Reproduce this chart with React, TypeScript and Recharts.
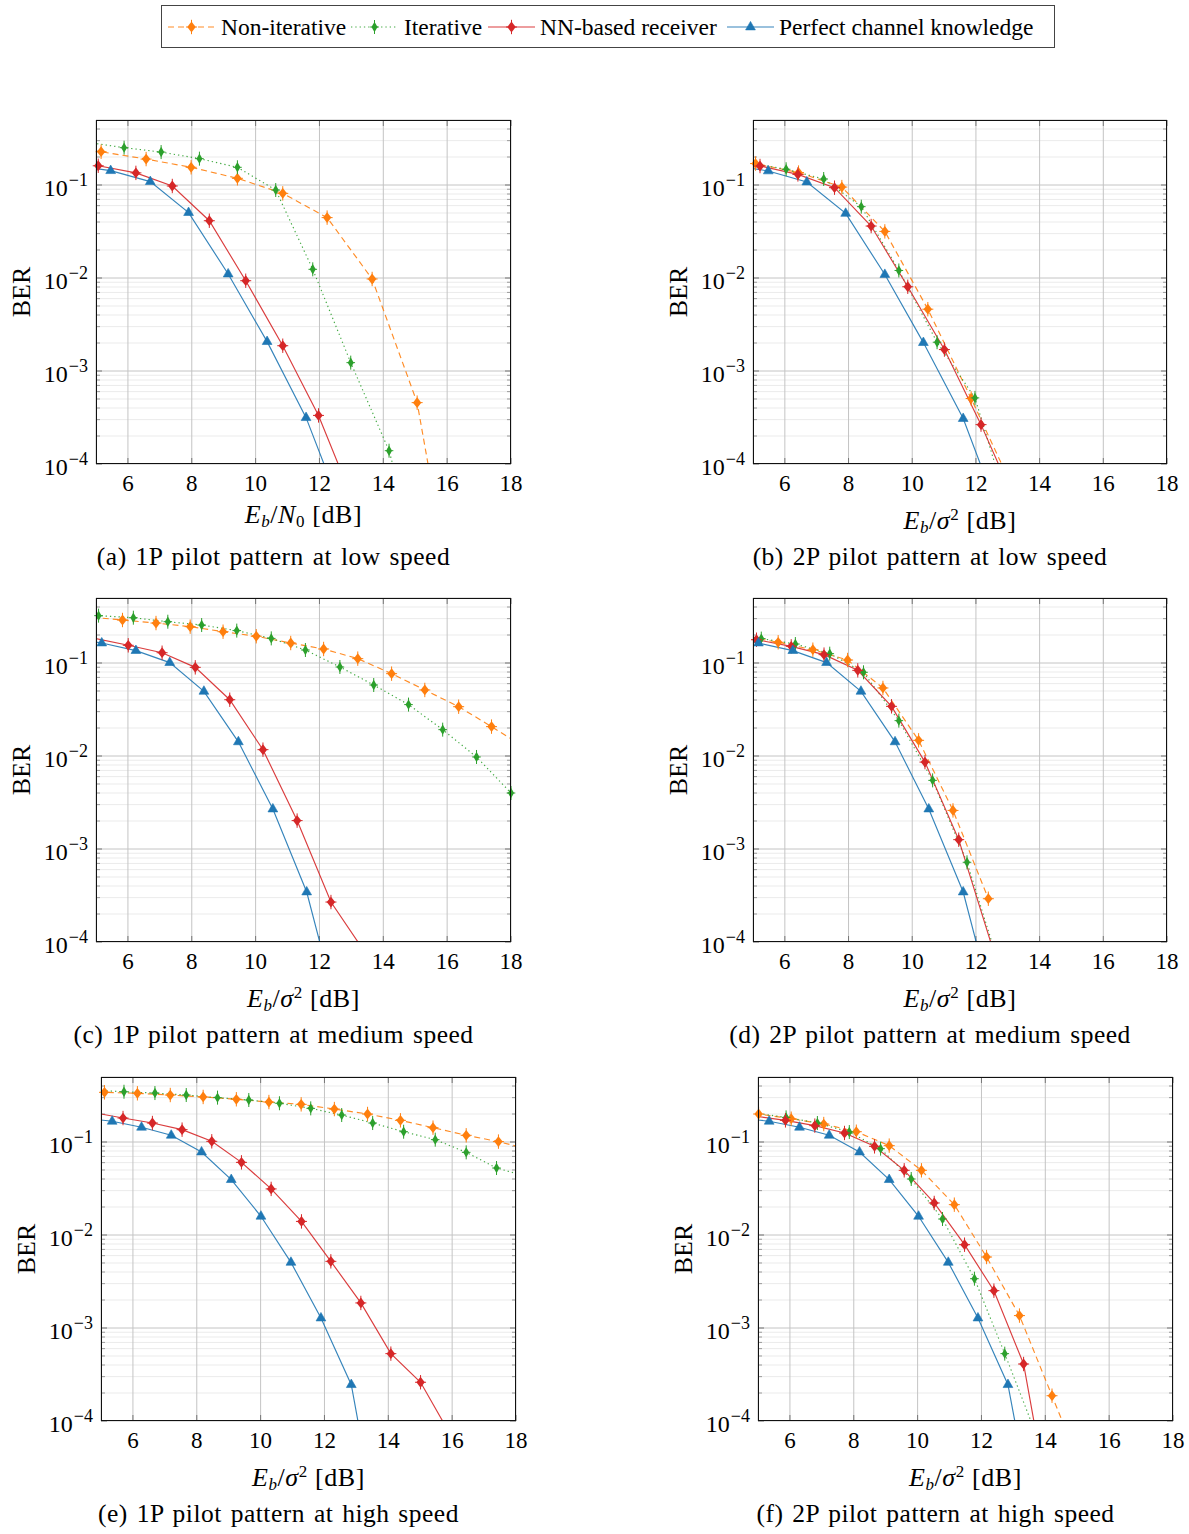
import React from "react";
import { CartesianGrid, Line, LineChart, ReferenceLine, XAxis, YAxis } from "recharts";

const SERIF = "'Liberation Serif', 'Times New Roman', 'DejaVu Serif', serif";
const ORANGE = "#ff7f0e";
const GREEN = "#2ca02c";
const RED = "#d62728";
const BLUE = "#1f77b4";

type Pt = [number, number];

// tick values
const X_TICKS = [6, 8, 10, 12, 14, 16, 18];
const Y_MAJOR = [1e-4, 1e-3, 1e-2, 1e-1];
const MINOR_MULT = [2, 3, 4, 5, 6, 7, 8, 9];
const Y_MINOR = [1e-4, 1e-3, 1e-2]
  .flatMap((d) => MINOR_MULT.map((m) => m * d))
  .concat([0.2, 0.3, 0.4]);
const X_DOMAIN: [number, number] = [5, 18];
const Y_DOMAIN: [number, number] = [1e-4, 0.5];

// (a) 1P, low speed
const aNonIter: Pt[] = [[4.9, 0.235], [5.16, 0.228], [6.57, 0.19], [7.98, 0.155], [9.43, 0.118], [10.85, 0.0813], [12.24, 0.0446], [13.65, 0.00976], [15.06, 4.57e-4], [15.6, 4.1e-5]];
const aIter: Pt[] = [[4.9, 0.282], [5.88, 0.252], [7.04, 0.226], [8.24, 0.192], [9.43, 0.155], [10.63, 0.0883], [11.79, 0.0124], [12.98, 1.23e-3], [14.18, 1.39e-4], [14.5, 5.4e-5]];
const aNN: Pt[] = [[4.9, 0.166], [5.07, 0.161], [6.25, 0.135], [7.39, 0.0976], [8.55, 0.0413], [9.69, 9.35e-3], [10.85, 1.87e-3], [11.97, 3.33e-4], [12.8, 6.6e-5]];
const aPerfect: Pt[] = [[4.9, 0.152], [5.46, 0.1426], [6.7, 0.1087], [7.9, 0.0505], [9.14, 0.01104], [10.36, 2.07e-3], [11.58, 3.15e-4], [12.4, 5.9e-5]];

// (b) 2P, low speed
const bNonIter: Pt[] = [[4.9, 0.175], [5.08, 0.17], [6.43, 0.136], [7.79, 0.095], [9.14, 0.0317], [10.49, 4.62e-3], [11.85, 5.06e-4], [13.0, 7.2e-5]];
const bIter: Pt[] = [[4.9, 0.172], [6.04, 0.1476], [7.22, 0.116], [8.4, 0.0585], [9.58, 0.01205], [10.78, 2.04e-3], [11.97, 5.14e-4], [12.8, 5.9e-5]];
const bNN: Pt[] = [[4.9, 0.168], [5.22, 0.16], [6.41, 0.13], [7.56, 0.0936], [8.71, 0.0362], [9.86, 8.05e-3], [11.01, 1.7e-3], [12.16, 2.65e-4], [12.9, 7.1e-5]];
const bPerfect: Pt[] = [[4.9, 0.152], [5.48, 0.1416], [6.69, 0.1077], [7.91, 0.0495], [9.14, 0.0109], [10.35, 2.02e-3], [11.6, 3.08e-4], [12.4, 5.8e-5]];

// (c) 1P, medium speed
const cNonIter: Pt[] = [[4.9, 0.31], [5.83, 0.29], [6.88, 0.269], [7.95, 0.246], [8.98, 0.217], [10.02, 0.194], [11.1, 0.164], [12.13, 0.1415], [13.2, 0.1114], [14.26, 0.0768], [15.3, 0.0513], [16.36, 0.0339], [17.39, 0.0207], [18.3, 0.0132]];
const cIter: Pt[] = [[4.9, 0.33], [5.08, 0.323], [6.17, 0.307], [7.25, 0.278], [8.31, 0.256], [9.41, 0.223], [10.49, 0.184], [11.56, 0.138], [12.64, 0.0906], [13.7, 0.058], [14.79, 0.0357], [15.86, 0.0192], [16.92, 9.76e-3], [18.0, 4.0e-3]];
const cNN: Pt[] = [[4.9, 0.186], [6.01, 0.155], [7.07, 0.129], [8.11, 0.0898], [9.19, 0.0403], [10.23, 0.0117], [11.3, 2.02e-3], [12.36, 2.69e-4], [13.5, 7.1e-5]];
const cPerfect: Pt[] = [[4.9, 0.17], [5.18, 0.164], [6.25, 0.136], [7.31, 0.101], [8.38, 0.0496], [9.46, 0.0142], [10.54, 2.69e-3], [11.6, 3.45e-4], [12.2, 5.6e-5]];

// (d) 2P, medium speed
const dNonIter: Pt[] = [[4.9, 0.19], [5.79, 0.167], [6.88, 0.139], [7.97, 0.1077], [9.08, 0.0539], [10.2, 0.01474], [11.28, 2.6e-3], [12.39, 2.92e-4]];
const dIter: Pt[] = [[4.9, 0.19], [5.26, 0.183], [6.33, 0.16], [7.41, 0.126], [8.47, 0.0794], [9.58, 0.024], [10.64, 5.47e-3], [11.72, 7.2e-4], [12.7, 6.0e-5]];
const dNN: Pt[] = [[4.9, 0.182], [5.11, 0.178], [6.2, 0.151], [7.23, 0.123], [8.29, 0.0834], [9.35, 0.0342], [10.4, 8.6e-3], [11.46, 1.26e-3], [12.7, 5.5e-5]];
const dPerfect: Pt[] = [[4.9, 0.17], [5.17, 0.164], [6.25, 0.136], [7.31, 0.101], [8.39, 0.0496], [9.46, 0.0142], [10.52, 2.69e-3], [11.6, 3.45e-4], [12.2, 5.6e-5]];

// (e) 1P, high speed
const eNonIter: Pt[] = [[4.9, 0.345], [5.11, 0.342], [6.14, 0.334], [7.17, 0.32], [8.2, 0.305], [9.24, 0.288], [10.26, 0.269], [11.27, 0.254], [12.31, 0.226], [13.35, 0.2], [14.38, 0.171], [15.4, 0.1426], [16.44, 0.118], [17.45, 0.101], [18.3, 0.085]];
const eIter: Pt[] = [[4.9, 0.36], [5.72, 0.347], [6.69, 0.336], [7.67, 0.32], [8.65, 0.3], [9.63, 0.283], [10.59, 0.261], [11.57, 0.23], [12.54, 0.195], [13.51, 0.16], [14.48, 0.129], [15.47, 0.106], [16.44, 0.0774], [17.39, 0.0525], [18.3, 0.043]];
const eNN: Pt[] = [[4.9, 0.203], [5.69, 0.181], [6.61, 0.16], [7.54, 0.1358], [8.47, 0.1017], [9.4, 0.0604], [10.33, 0.0313], [11.28, 0.014], [12.2, 5.21e-3], [13.14, 1.86e-3], [14.08, 5.3e-4], [15.01, 2.61e-4], [16.0, 6.6e-5]];
const ePerfect: Pt[] = [[4.9, 0.174], [5.35, 0.167], [6.27, 0.144], [7.2, 0.118], [8.15, 0.078], [9.08, 0.0394], [10.01, 0.0159], [10.95, 5.08e-3], [11.89, 1.28e-3], [12.84, 2.46e-4], [13.2, 5.2e-5]];

// (f) 2P, high speed
const fNonIter: Pt[] = [[4.9, 0.203], [5.02, 0.2], [6.04, 0.178], [7.06, 0.156], [8.08, 0.129], [9.11, 0.0914], [10.12, 0.0496], [11.15, 0.0212], [12.16, 5.8e-3], [13.19, 1.36e-3], [14.21, 1.87e-4], [14.8, 5.9e-5]];
const fIter: Pt[] = [[4.9, 0.205], [5.88, 0.184], [6.86, 0.16], [7.86, 0.128], [8.84, 0.0848], [9.8, 0.04], [10.78, 0.01486], [11.78, 3.39e-3], [12.73, 5.3e-4], [13.8, 6.0e-5]];
const fNN: Pt[] = [[4.9, 0.19], [5.86, 0.171], [6.78, 0.15], [7.71, 0.125], [8.65, 0.0898], [9.58, 0.0496], [10.52, 0.0221], [11.47, 7.87e-3], [12.39, 2.52e-3], [13.32, 4.1e-4], [13.8, 5.0e-5]];
const fPerfect: Pt[] = [[4.9, 0.174], [5.35, 0.167], [6.3, 0.144], [7.23, 0.118], [8.18, 0.078], [9.11, 0.0394], [10.03, 0.0159], [10.96, 5.08e-3], [11.89, 1.28e-3], [12.83, 2.46e-4], [13.2, 5.2e-5]];

type Kind = "diamond" | "thin" | "tri";
const STYLES: { name: string; color: string; dash?: string; kind: Kind }[] = [
  { name: "Non-iterative", color: ORANGE, dash: "6 4", kind: "diamond" },
  { name: "Iterative", color: GREEN, dash: "1.3 3", kind: "thin" },
  { name: "NN-based receiver", color: RED, kind: "diamond" },
  { name: "Perfect channel knowledge", color: BLUE, kind: "tri" },
];

function Marker({ kind, color, x, y }: { kind: Kind; color: string; x: number; y: number }) {
  if (kind === "tri") {
    return (
      <polygon
        points={`${x},${y - 5.6} ${x + 4.9},${y + 2.9} ${x - 4.9},${y + 2.9}`}
        fill={color}
        stroke={color}
        strokeWidth={0.6}
      />
    );
  }
  const hw = kind === "thin" ? 3.0 : 4.2;
  const hh = kind === "thin" ? 5.2 : 5.4;
  return (
    <g>
      <line x1={x} y1={y - hh - 1.8} x2={x} y2={y + hh + 1.8} stroke={color} strokeWidth={1} />
      <line x1={x - hw - 1.3} y1={y} x2={x + hw + 1.3} y2={y} stroke={color} strokeWidth={1} />
      <polygon points={`${x},${y - hh} ${x + hw},${y} ${x},${y + hh} ${x - hw},${y}`} fill={color} />
    </g>
  );
}

const makeDot = (kind: Kind, color: string) => (p: any) => {
  const { cx, cy, index } = p;
  if (cx == null || cy == null) return <g key={`d-${index}`} />;
  return (
    <g key={`d-${index}`}>
      <Marker kind={kind} color={color} x={cx} y={cy} />
    </g>
  );
};

function XTick({ x, y, payload }: any) {
  return (
    <text x={x} y={y + 19} textAnchor="middle" style={{ fontFamily: SERIF, fontSize: 23 }} fill="#000">
      {payload.value}
    </text>
  );
}

function YTick({ x, y, payload }: any) {
  const e = Math.round(Math.log10(payload.value));
  return (
    <text x={x} y={y + 11} textAnchor="end" style={{ fontFamily: SERIF, fontSize: 24 }} fill="#000">
      10
      <tspan dx={1} dy={-10} style={{ fontSize: 18 }}>
        {"\u2212" + -e}
      </tspan>
    </text>
  );
}

const toRows = (pts: Pt[]) => pts.map(([x, y]) => ({ x, y }));
const inside = (pts: Pt[]) =>
  toRows(pts.filter(([x, y]) => x >= X_DOMAIN[0] && x <= X_DOMAIN[1] && y >= Y_DOMAIN[0] && y <= Y_DOMAIN[1]));

const ML = 96;
const MT = 20;
const MR = 20;
const XH = 40;
const MB = 10;

function Panel({
  box,
  series,
  noise,
  caption,
}: {
  box: [number, number, number, number];
  series: Pt[][];
  noise: "N0" | "sigma";
  caption: string;
}) {
  const [L, T, R, B] = box;
  const pw = R - L;
  const ph = B - T;
  const dMaj = (13 / pw) * 6;
  const dMin = (13 / pw) * 4;
  const decades = Math.log10(Y_DOMAIN[1] / Y_DOMAIN[0]);
  const fy = Math.pow(10, (6 * decades) / ph);

  const tickLines: React.ReactNode[] = [];
  Y_MAJOR.forEach((v) => {
    tickLines.push(<ReferenceLine key={`yl${v}`} segment={[{ x: 5, y: v }, { x: 5 + dMaj, y: v }]} stroke="#777" />);
    tickLines.push(<ReferenceLine key={`yr${v}`} segment={[{ x: 18 - dMaj, y: v }, { x: 18, y: v }]} stroke="#777" />);
  });
  Y_MINOR.forEach((v) => {
    tickLines.push(<ReferenceLine key={`ml${v}`} segment={[{ x: 5, y: v }, { x: 5 + dMin, y: v }]} stroke="#9a9a9a" />);
    tickLines.push(<ReferenceLine key={`mr${v}`} segment={[{ x: 18 - dMin, y: v }, { x: 18, y: v }]} stroke="#9a9a9a" />);
  });
  X_TICKS.forEach((v) => {
    tickLines.push(<ReferenceLine key={`xb${v}`} segment={[{ x: v, y: 1e-4 }, { x: v, y: 1e-4 * fy }]} stroke="#777" />);
    tickLines.push(<ReferenceLine key={`xt${v}`} segment={[{ x: v, y: 0.5 / fy }, { x: v, y: 0.5 }]} stroke="#777" />);
  });

  return (
    <>
      <div style={{ position: "absolute", left: L - ML, top: T - MT }}>
        <LineChart width={pw + ML + MR} height={ph + MT + XH + MB} margin={{ top: MT, right: MR, left: 0, bottom: MB }}>
          <XAxis
            dataKey="x"
            type="number"
            domain={X_DOMAIN}
            ticks={X_TICKS}
            interval={0}
            allowDataOverflow
            axisLine={false}
            tickLine={false}
            height={XH}
            tick={<XTick />}
          />
          <YAxis
            type="number"
            scale="log"
            domain={Y_DOMAIN}
            ticks={Y_MAJOR}
            interval={0}
            allowDataOverflow
            axisLine={false}
            tickLine={false}
            width={ML}
            tick={<YTick />}
          />
          <XAxis xAxisId="m" dataKey="x" type="number" domain={X_DOMAIN} hide />
          <YAxis yAxisId="m" type="number" scale="log" domain={Y_DOMAIN} hide />
          <CartesianGrid horizontalValues={Y_MINOR} vertical={false} stroke="#ebebeb" />
          <CartesianGrid stroke="#c4c4c4" />
          {tickLines}
          {series.map((pts, i) => (
            <Line
              key={`l${i}`}
              data={toRows(pts)}
              dataKey="y"
              type="linear"
              stroke={STYLES[i].color}
              strokeWidth={1.15}
              strokeOpacity={0.9}
              strokeDasharray={STYLES[i].dash}
              dot={false}
              activeDot={false}
              isAnimationActive={false}
            />
          ))}
          {series.map((pts, i) => (
            <Line
              key={`m${i}`}
              xAxisId="m"
              yAxisId="m"
              data={inside(pts)}
              dataKey="y"
              stroke="none"
              dot={makeDot(STYLES[i].kind, STYLES[i].color)}
              activeDot={false}
              isAnimationActive={false}
            />
          ))}
        </LineChart>
      </div>
      <div
        style={{
          position: "absolute",
          left: L - 74 - 40,
          top: (T + B) / 2 - 15,
          width: 80,
          height: 30,
          lineHeight: "30px",
          textAlign: "center",
          fontFamily: SERIF,
          fontSize: 26,
          transform: "rotate(-90deg)",
        }}
      >
        BER
      </div>
      <div
        style={{
          position: "absolute",
          left: L,
          top: T,
          width: pw,
          height: ph,
          border: "1px solid #111",
          boxSizing: "border-box",
          pointerEvents: "none",
        }}
      />
      <div
        style={{
          position: "absolute",
          left: (L + R) / 2 - 150,
          top: B + 36,
          width: 300,
          height: 30,
          lineHeight: "30px",
          textAlign: "center",
          fontFamily: SERIF,
          fontSize: 26,
          letterSpacing: 0.6,
        }}
      >
        <i>E</i>
        <sub style={{ fontSize: 17, fontStyle: "italic", verticalAlign: "-4px" }}>b</sub>/
        {noise === "N0" ? (
          <>
            <i>N</i>
            <sub style={{ fontSize: 17, verticalAlign: "-4px" }}>0</sub>
          </>
        ) : (
          <>
            <i>σ</i>
            <sup style={{ fontSize: 17, verticalAlign: "9px" }}>2</sup>
          </>
        )}{" "}
        [dB]
      </div>
      <div
        style={{
          position: "absolute",
          left: (L + R) / 2 - 30 - 250,
          top: B + 78,
          width: 500,
          height: 30,
          lineHeight: "30px",
          textAlign: "center",
          fontFamily: SERIF,
          fontSize: 25.5,
          letterSpacing: 0.5,
          wordSpacing: 2,
          whiteSpace: "nowrap",
        }}
      >
        {caption}
      </div>
    </>
  );
}

const LEGEND_POS = [
  { lineX: 168, textX: 221 },
  { lineX: 351, textX: 404 },
  { lineX: 488, textX: 540 },
  { lineX: 727, textX: 779 },
];

function Legend() {
  return (
    <svg style={{ position: "absolute", left: 0, top: 0 }} width={1189} height={60}>
      <rect x={161.5} y={5.5} width={893} height={42} fill="#fff" stroke="#444" strokeWidth={1} />
      {STYLES.map((s, i) => {
        const { lineX, textX } = LEGEND_POS[i];
        return (
          <g key={s.name}>
            <line
              x1={lineX}
              y1={27}
              x2={lineX + 47}
              y2={27}
              stroke={s.color}
              strokeWidth={1.15}
              strokeOpacity={0.9}
              strokeDasharray={s.dash}
            />
            <Marker kind={s.kind} color={s.color} x={lineX + 23.5} y={27} />
            <text x={textX} y={35} style={{ fontFamily: SERIF, fontSize: 23.5 }} fill="#000">
              {s.name}
            </text>
          </g>
        );
      })}
    </svg>
  );
}

export default function App() {
  return (
    <div style={{ position: "absolute", left: 0, top: 0, width: 1189, height: 1534, background: "#fff" }}>
      <Legend />
      <Panel box={[96, 120, 511, 464]} series={[aNonIter, aIter, aNN, aPerfect]} noise="N0" caption="(a) 1P pilot pattern at low speed" />
      <Panel box={[753, 120, 1167, 464]} series={[bNonIter, bIter, bNN, bPerfect]} noise="sigma" caption="(b) 2P pilot pattern at low speed" />
      <Panel box={[96, 598, 511, 942]} series={[cNonIter, cIter, cNN, cPerfect]} noise="sigma" caption="(c) 1P pilot pattern at medium speed" />
      <Panel box={[753, 598, 1167, 942]} series={[dNonIter, dIter, dNN, dPerfect]} noise="sigma" caption="(d) 2P pilot pattern at medium speed" />
      <Panel box={[101, 1077, 516, 1421]} series={[eNonIter, eIter, eNN, ePerfect]} noise="sigma" caption="(e) 1P pilot pattern at high speed" />
      <Panel box={[758, 1077, 1173, 1421]} series={[fNonIter, fIter, fNN, fPerfect]} noise="sigma" caption="(f) 2P pilot pattern at high speed" />
    </div>
  );
}
